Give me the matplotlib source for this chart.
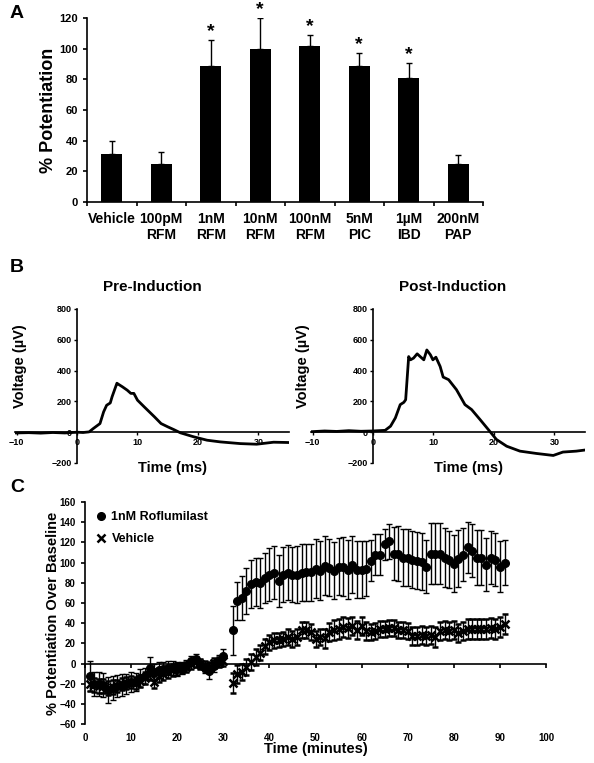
import numpy as np
import matplotlib
matplotlib.use('Agg')
from matplotlib import pyplot as plt

plt.rcParams['font.family'] = ['Liberation Sans', 'DejaVu Sans']
plt.rcParams['font.weight'] = 'bold'
plt.rcParams['axes.labelweight'] = 'bold'
plt.rcParams['axes.linewidth'] = 1.2

# ---- panel A data
groups = ['Vehicle', '100pM\nRFM', '1nM\nRFM', '10nM\nRFM', '100nM\nRFM',
          '5nM\nPIC', '1µM\nIBD', '200nM\nPAP']
potentiation = [31, 25, 89, 100, 102, 88.5, 81, 25]
potentiation_err = [9, 7.5, 16.5, 20, 7, 8.5, 9.5, 5.5]
significant = [False, False, True, True, True, True, True, False]

# ---- panel B data (field potential traces)
pre_t = [-10.3, -8, -6, -4, -2, 0, 1, 2, 2.7, 3.8, 4.4, 4.9, 5.5, 5.8, 6.6, 6.9,
         7.5, 8.3, 8.9, 9.4, 10, 11.1, 12.8, 13.9, 15, 16, 17.1, 19.3, 21.5,
         23.7, 27, 29.7, 32.5, 35]
pre_v = [-5, -3, -6, -2, -5, 0, -2, 2, 24, 56, 132, 175, 190, 230, 318, 310,
         295, 273, 252, 252, 208, 165, 100, 56, 35, 17, -4, -30, -52,
         -63, -74, -78, -65, -67]
post_t = [-10.3, -8, -6, -4, -2, 0, 1, 2, 2.9, 3.7, 4.5, 5.1, 5.4, 5.9, 6.2, 6.7,
          7.3, 7.8, 8.4, 8.9, 9.5, 9.9, 10.4, 11.1, 11.6, 12.5, 13.8, 15.2,
          16.3, 17.7, 19.3, 20.4, 22.1, 24.3, 27, 29.8, 31.4, 33.6, 35]
post_v = [3, 8, 5, 10, 6, 8, 10, 12, 39, 93, 179, 194, 211, 491, 470, 481,
          509, 491, 470, 534, 502, 470, 487, 427, 358, 341, 276, 179,
          147, 82, 6, -47, -91, -123, -138, -151, -129, -123, -116]

# ---- panel C data (time course)
minutes = list(range(1, 31)) + list(range(32, 92))
rofl = [-12, -20, -20, -21, -26, -24, -22, -21, -20, -18, -18, -14, -12, -4, -8,
        -6, -5, -4, -4, -5, -4, -2, 3, 5, 0, -4, -7, -2, 3, 8,
        33, 62, 65, 72, 79, 81, 80, 85, 88, 90, 82, 88, 90, 88, 88, 90, 90.5,
        90.5, 94, 92, 97, 95, 92, 96, 96, 93, 98, 93, 93, 94, 102, 108, 108,
        118, 121, 109, 109, 105, 105, 103, 102, 101, 96, 109, 109, 109, 105,
        103, 99, 104, 108, 115, 112, 105, 105, 98, 105, 103, 96, 100]
rofl_err = [15, 12, 12, 12, 13, 12, 11, 11, 10, 10, 9, 9, 8, 11, 8,
            8, 7, 7, 7, 7, 6, 6, 5, 5, 5, 5, 8, 6, 6, 7,
            24, 19, 22, 23, 24, 24, 25, 25, 26, 26, 26, 27, 27, 27, 28, 28, 28,
            28, 29, 29, 29, 28, 28, 28, 29, 29, 28, 28, 28, 27, 20, 20, 20, 15,
            17, 26, 27, 28, 28, 28, 28, 28, 26, 30, 30, 30, 29, 28, 28, 28, 26,
            25, 26, 27, 27, 26, 26, 26, 25, 22]
vehicle = [-20, -21, -22, -22, -24, -23, -22, -20, -19, -18, -19, -17, -14, -10,
           -18, -12, -10, -8, -6, -5, -4, -3, 0, 2, 0, -2, -3, 1, 2, 3,
           -19.5, -10, -8.6, -3.6, 1.3, 6.3, 11, 17, 21, 23, 23.5, 24.5, 26,
           24.5, 26, 33, 33, 31, 24.5, 26, 25, 31, 33, 34, 36, 35, 37, 33, 37,
           32, 31, 32, 34, 34, 35, 35, 33, 33, 32, 27.5, 27.5, 28.5, 27.5,
           28.5, 26.5, 32, 33, 32, 33, 30.5, 32, 34, 34, 34, 34, 34, 35, 34,
           36, 39]
vehicle_err = [7, 7, 7, 7, 7, 7, 6, 6, 6, 6, 6, 6, 6, 6, 6,
               6, 6, 6, 6, 6, 5, 5, 5, 5, 5, 5, 5, 5, 5, 5,
               10, 9, 8, 8, 8, 8, 7, 7, 7, 7, 7, 7, 8, 8, 8, 8, 8, 8, 8, 8,
               9, 9, 10, 10, 10, 10, 9, 9, 9, 9, 8, 8, 8, 8, 8, 8, 8, 8, 8,
               9, 9, 9, 9, 9, 10, 9, 9, 9, 9, 9, 9, 10, 10, 10, 10, 10, 10,
               10, 10, 10]

W, H = 594, 763
fig = plt.figure(figsize=(W / 100, H / 100), dpi=100)


def px_axes(left, top, right, bottom):
    return fig.add_axes([left / W, 1 - bottom / H, (right - left) / W, (bottom - top) / H])


# ================= A
ax = px_axes(87, 18, 483, 202)
pos = np.arange(len(groups)) + 0.5
ax.bar(pos, potentiation, width=0.42, color='black',
       yerr=[np.zeros(len(groups)), potentiation_err], capsize=2,
       error_kw=dict(elinewidth=1, capthick=1, ecolor='black'))
for p, v, e, s in zip(pos, potentiation, potentiation_err, significant):
    if s:
        ax.annotate('*', (p, v + e), xytext=(0, 3), textcoords='offset points',
                    ha='center', va='baseline', fontsize=14)
ax.set_xlim(0, len(groups))
ax.set_ylim(0, 120)
ax.set_yticks(range(0, 121, 20))
ax.set_xticks(range(0, len(groups) + 1))
ax.set_xticklabels([])
ax.set_xticks(pos, minor=True)
ax.set_xticklabels(groups, minor=True, fontsize=10)
ax.tick_params(axis='x', which='major', direction='out', length=3, width=1.2)
ax.tick_params(axis='x', which='minor', length=0, pad=7)
ax.tick_params(axis='y', direction='out', length=3, width=1.2, labelsize=8)
for s in ['top', 'right']:
    ax.spines[s].set_visible(False)
ax.set_ylabel('% Potentiation', fontsize=13, va='center')
ax.yaxis.set_label_coords(-0.096, 0.5)


# ================= B
def trace_panel(left, right, t, v, title, ylab_x, title_x):
    ax = px_axes(left, 309, right, 463)
    ax.plot(t, v, color='black', lw=2)
    ax.set_xlim(-10.3, 35)
    ax.set_ylim(-200, 800)
    ax.spines['left'].set_position(('data', 0))
    ax.spines['bottom'].set_position(('data', 0))
    for s in ['top', 'right']:
        ax.spines[s].set_visible(False)
    ax.set_xticks([-10, 0, 10, 20, 30])
    ax.set_yticks(range(-200, 801, 200))
    ax.tick_params(direction='out', length=2, width=1, labelsize=6.5, pad=2)
    ax.set_title(title, fontsize=11, fontweight='bold', x=title_x, y=1.143,
                 va='center', pad=0)
    ax.set_ylabel('Voltage (µV)', fontsize=10.5, va='center')
    ax.yaxis.set_label_coords(ylab_x, 0.63)
    ax.set_xlabel('Time (ms)', fontsize=10.5, va='center')
    ax.xaxis.set_label_coords(0.575, -0.035)
    return ax


trace_panel(14.7, 288.7, pre_t, pre_v, 'Pre-Induction', 0.019, 0.503)
trace_panel(310.7, 584.7, post_t, post_v, 'Post-Induction', -0.028, 0.519)

# ================= C
ax = px_axes(85, 502, 546, 724.3)
veh = ax.errorbar(minutes, vehicle, yerr=vehicle_err, fmt='x', color='black',
                  ms=6, mew=1.8, elinewidth=1, capsize=2, capthick=1)
rf = ax.errorbar(minutes, rofl, yerr=rofl_err, fmt='o', color='black',
                 ms=5.5, elinewidth=1, capsize=2, capthick=1)
ax.set_xlim(0, 100)
ax.set_ylim(-60, 160)
ax.set_yticks(range(-60, 161, 20))
ax.set_xticks(range(0, 101, 10))
ax.spines['bottom'].set_visible(False)
for s in ['top', 'right']:
    ax.spines[s].set_visible(False)
ax.tick_params(axis='x', length=0, labelsize=7, pad=6)
ax.tick_params(axis='y', direction='out', length=3, width=1.2, labelsize=7)
zero_axis = ax.secondary_xaxis(60 / 220)
zero_axis.set_xticks(range(0, 101, 10))
zero_axis.tick_params(labelbottom=False, labeltop=False, direction='out',
                      length=3, width=1.2)
zero_axis.spines['bottom'].set_linewidth(1.2)
zero_axis.spines['top'].set_linewidth(1.2)
ax.set_ylabel('% Potentiation Over Baseline', fontsize=10.5, va='center')
ax.yaxis.set_label_coords(-0.069, 0.5)
ax.set_xlabel('Time (minutes)', fontsize=10.5, va='center')
ax.xaxis.set_label_coords(0.5, -0.11)
ax.legend([rf[0], veh[0]], ['1nM Roflumilast', 'Vehicle'], loc='upper left',
          bbox_to_anchor=(-0.005, 1.01), frameon=False, fontsize=9,
          handletextpad=0.2, handlelength=1.2, labelspacing=0.8)

# panel letters
fig.text(10 / W, 1 - 14 / H, 'A', fontsize=14, fontweight='bold', va='center')
fig.text(10 / W, 1 - 268 / H, 'B', fontsize=14, fontweight='bold', va='center')
fig.text(10 / W, 1 - 488 / H, 'C', fontsize=14, fontweight='bold', va='center')

fig.savefig('out.png', dpi=100)
